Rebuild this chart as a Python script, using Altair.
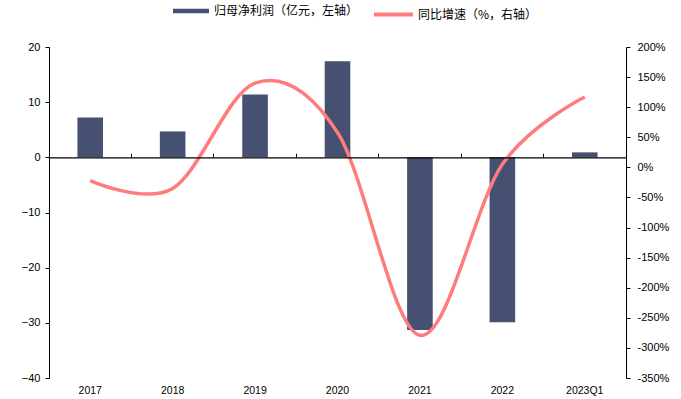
import altair as alt
import pandas as pd

categories = ["2017", "2018", "2019", "2020", "2021", "2022", "2023Q1"]
profit = [7.2, 4.7, 11.4, 17.4, -31.3, -29.9, 0.9]
growth = [-22, -35, 140, 58, -279, 5, 117]

bar_name = "归母净利润（亿元，左轴）"
line_name = "同比增速（%，右轴）"
bar_color = "#465070"
line_color = "#FF7C7C"

df = pd.DataFrame({
    "cat": categories,
    "profit": profit,
    "growth": growth,
    "s1": bar_name,
    "s2": line_name,
})

num_font = "Liberation Sans"
cjk_font = "Noto Sans CJK SC"

base = alt.Chart(df)

bars = base.mark_bar(size=25.6).encode(
    x=alt.X("cat:N", sort=categories,
            scale=alt.Scale(paddingInner=0, paddingOuter=0),
            axis=alt.Axis(title=None, labelAngle=0, domain=False, ticks=False,
                          labelPadding=7, labelFontSize=10.5, labelFont=num_font,
                          labelColor="#000000")),
    y=alt.Y("profit:Q",
            scale=alt.Scale(domain=[-40, 20], nice=False),
            axis=alt.Axis(title=None, grid=False, values=[-40, -30, -20, -10, 0, 10, 20],
                          domainColor="#000000", tickColor="#000000", tickSize=4,
                          labelPadding=5, labelFontSize=11, labelFont=num_font,
                          labelColor="#000000")),
    color=alt.Color("s1:N", scale=alt.Scale(range=[bar_color]),
                    legend=alt.Legend(title=None, orient="none", legendX=124, legendY=-54,
                                      symbolType="M-1,-0.125H1V0.125H-1Z", symbolSize=1296,
                                      symbolStrokeWidth=0, labelFont=cjk_font,
                                      labelFontSize=12, labelColor="#000000",
                                      labelOffset=5, padding=0)),
)

line = base.mark_line(interpolate="cardinal", strokeWidth=3.5).encode(
    x=alt.X("cat:N", sort=categories,
            axis=alt.Axis(title=None, labels=False, domainColor="#000000",
                          domainWidth=1.2, tickColor="#000000", tickSize=4,
                          bandPosition=0, offset=-110.3, zindex=1)),
    y=alt.Y("growth:Q",
            scale=alt.Scale(domain=[-350, 200], nice=False),
            axis=alt.Axis(title=None, grid=False, orient="right",
                          values=list(range(-350, 201, 50)),
                          labelExpr="datum.value + '%'",
                          domainColor="#000000", tickColor="#000000", tickSize=4,
                          labelPadding=7, labelFontSize=11, labelFont=num_font,
                          labelColor="#000000")),
    stroke=alt.Stroke("s2:N", scale=alt.Scale(range=[line_color]),
                      legend=alt.Legend(title=None, orient="none", legendX=323, legendY=-54,
                                        symbolType="stroke", symbolSize=1521,
                                        symbolStrokeWidth=4, labelFont=cjk_font,
                                        labelFontSize=12, labelColor="#000000",
                                        labelOffset=3, padding=0)),
)

chart = alt.layer(bars, line).resolve_scale(
    y="independent"
).resolve_axis(
    x="independent"
).properties(
    width=577,
    height=331,
    autosize=alt.AutoSizeParams(type="none"),
    padding={"left": 49, "top": 47, "right": 55, "bottom": 21},
    background="#FFFFFF",
).configure_view(stroke=None)

chart.save("out.html", embed_options={"renderer": "svg", "actions": False})
